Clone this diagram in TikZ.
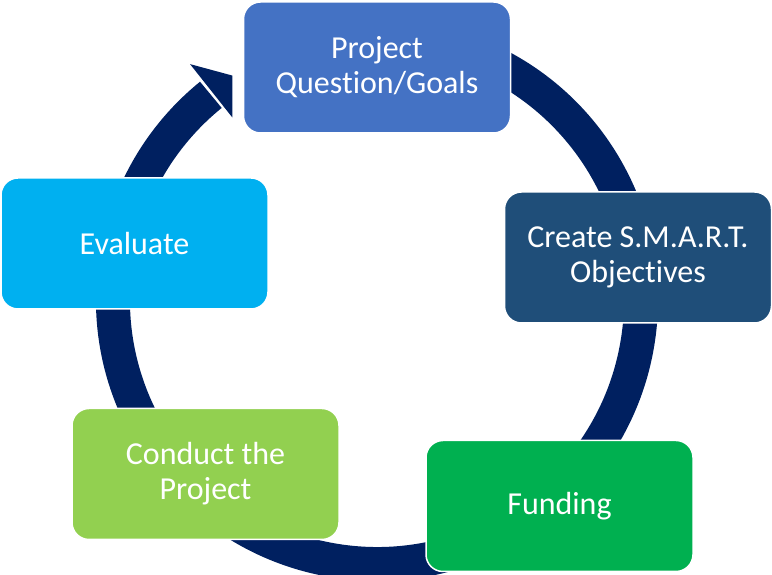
\documentclass[tikz,border=0pt]{standalone}
\usepackage{fontspec}
\setmainfont[Ligatures=NoCommon]{Carlito}
\usepackage{xcolor}
\usepackage{tikz}
\usetikzlibrary{calc}

\definecolor{ringnavy}{HTML}{002060}
\definecolor{goalblue}{HTML}{4472C4}
\definecolor{smartblue}{HTML}{1F4E79}
\definecolor{fundgreen}{HTML}{00B050}
\definecolor{condgreen}{HTML}{92D050}
\definecolor{evalcyan}{HTML}{00B0F0}

\begin{document}
\begin{tikzpicture}[
  x=1pt, y=1pt,
  font=\fontsize{32}{35}\selectfont,
  stage/.style={draw=white, line width=1.5pt, rounded corners=17pt, text=white, align=center, minimum width=267pt, minimum height=131pt, inner sep=0pt},
  ring/.style={draw=ringnavy, line width=34pt}
]
\useasboundingbox (0,0) rectangle (772,575);
\coordinate (c) at (377,275);
% cycle ring with its head
\draw[ring] ($(c)+(80:264)$) arc[start angle=80, end angle=-231, radius=264];
\fill[ringnavy] ($(c)+(122.8:267)$) -- ($(c)+(128.4:301)$) -- ($(c)+(128.4:233)$) -- cycle;
% stages
\node[stage, fill=goalblue] (goals) at (377,507.5) {Project\\Question/Goals};
\node[stage, fill=smartblue] (smart) at (638,317.5) {Create S.M.A.R.T.\\Objectives};
\node[stage, fill=fundgreen] (fund) at (559.5,69) {Funding};
\node[stage, fill=condgreen] (cond) at (205.5,101) {Conduct the\\Project};
\node[stage, fill=evalcyan] (eval) at (134.5,331.5) {Evaluate};
\end{tikzpicture}
\end{document}
